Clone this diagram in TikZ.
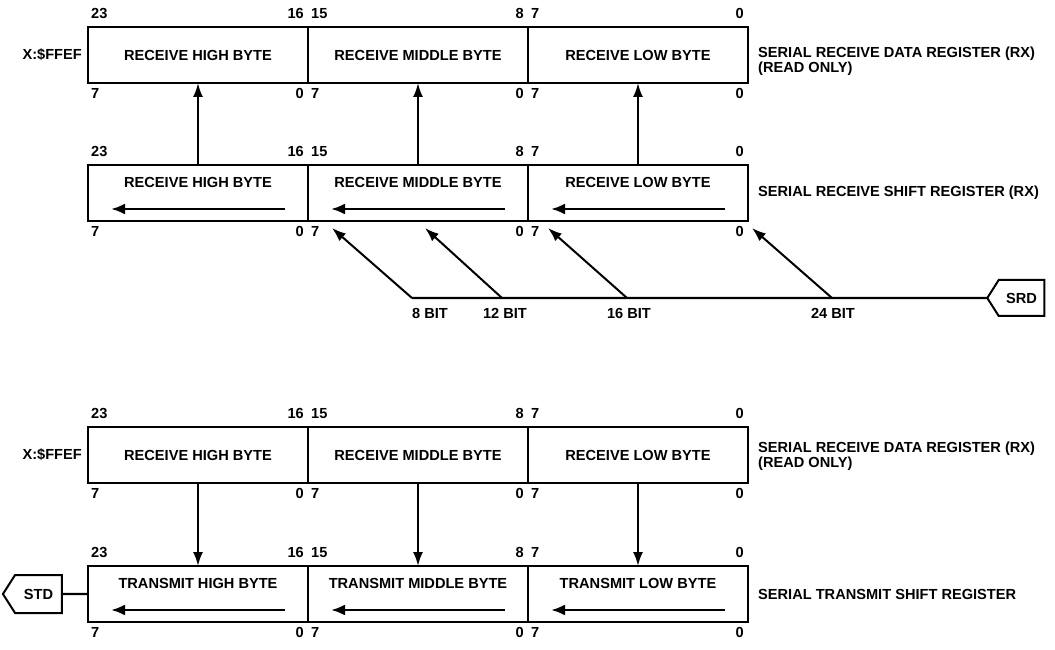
\documentclass[tikz,border=0pt]{standalone}
\usepackage{fontspec}
\setmainfont{Liberation Sans}
\usetikzlibrary{arrows.meta,shapes.symbols}

\tikzset{
 bitnum/.style={inner sep=0pt},
 bits/.style 2 args={
  label={[bitnum,anchor=south west,xshift=3pt,yshift=8pt]north west:#1},
  label={[bitnum,anchor=south east,xshift=-4pt,yshift=8pt]north east:#2},
  label={[bitnum,anchor=north west,xshift=3pt,yshift=-5pt]south west:7},
  label={[bitnum,anchor=north east,xshift=-4pt,yshift=-5pt]south east:0}},
 reg/.style={draw,line width=2pt,minimum width=220pt,minimum height=56pt,inner sep=0pt,outer sep=0pt},
 hib/.style={reg,bits={23}{16}},
 midb/.style={reg,bits={15}{8}},
 lob/.style={reg,bits={7}{0}},
 regname/.style={anchor=west,align=left,inner sep=0pt},
 flow/.style={-{Latex[length=14pt,width=10pt]},line width=2pt},
 shiftarr/.style={-{Latex[length=14pt,width=11pt]},line width=2.6pt},
 wire/.style={line width=2.2pt},
 port/.style={signal,draw,line width=2pt,inner sep=0pt,outer sep=0pt,signal to=west,signal pointer angle=115}
}

\begin{document}
\begin{tikzpicture}[x=1pt,y=1pt,font=\fontsize{14.6}{15}\selectfont\bfseries]
 \useasboundingbox (0,0) rectangle (1055,649);
 % receive data register
 \node[hib] (rdh) at (198,594) {RECEIVE HIGH BYTE};
 \node[midb] (rdm) at (418,594) {RECEIVE MIDDLE BYTE};
 \node[lob] (rdl) at (638,594) {RECEIVE LOW BYTE};
 \node[anchor=east,inner sep=0pt] (rdaddr) at ([xshift=-6pt]rdh.west) {X:\$FFEF};
 \node[regname] (rdname) at ([xshift=10pt,yshift=-6pt]rdl.east) {SERIAL RECEIVE DATA REGISTER (RX)\\(READ ONLY)};
 % receive shift register
 \node[hib] (rsh) at (198,456) {};
 \node[midb] (rsm) at (418,456) {};
 \node[lob] (rsl) at (638,456) {};
 \node (rsht) at ([yshift=-17.5pt]rsh.north) {RECEIVE HIGH BYTE};
 \node (rsmt) at ([yshift=-17.5pt]rsm.north) {RECEIVE MIDDLE BYTE};
 \node (rslt) at ([yshift=-17.5pt]rsl.north) {RECEIVE LOW BYTE};
 \node[regname] (rsname) at ([xshift=10pt]rsl.east) {SERIAL RECEIVE SHIFT REGISTER (RX)};
 \draw[shiftarr] ([xshift=-23pt,yshift=12pt]rsh.south east) -- ([xshift=23pt,yshift=12pt]rsh.south west);
 \draw[shiftarr] ([xshift=-23pt,yshift=12pt]rsm.south east) -- ([xshift=23pt,yshift=12pt]rsm.south west);
 \draw[shiftarr] ([xshift=-23pt,yshift=12pt]rsl.south east) -- ([xshift=23pt,yshift=12pt]rsl.south west);
 \draw[flow] (rsh.north) -- (rdh.south);
 \draw[flow] (rsm.north) -- (rdm.south);
 \draw[flow] (rsl.north) -- (rdl.south);
 % serial input
 \node[port,minimum width=57pt,minimum height=36pt] (srd) at (1021.5,351) {SRD};
 \coordinate (b8) at (412,351);
 \coordinate (b12) at (502,351);
 \coordinate (b16) at (627,351);
 \coordinate (b24) at (832,351);
 \draw[wire] (b8) -- (srd);
 \draw[flow] (b8) -- ([xshift=24pt,yshift=-7pt]rsm.south west);
 \draw[flow] (b12) -- ([xshift=7pt,yshift=-7pt]rsm.south);
 \draw[flow] (b16) -- ([xshift=20pt,yshift=-7pt]rsl.south west);
 \draw[flow] (b24) -- ([xshift=4pt,yshift=-7pt]rsl.south east);
 \node[inner sep=0pt] (l8) at ([xshift=18pt,yshift=-15pt]b8) {8 BIT};
 \node[inner sep=0pt] (l12) at ([xshift=3pt,yshift=-15pt]b12) {12 BIT};
 \node[inner sep=0pt] (l16) at ([xshift=2pt,yshift=-15pt]b16) {16 BIT};
 \node[inner sep=0pt] (l24) at ([xshift=1pt,yshift=-15pt]b24) {24 BIT};
 % transmit side
 \node[hib] (tdh) at (198,194) {RECEIVE HIGH BYTE};
 \node[midb] (tdm) at (418,194) {RECEIVE MIDDLE BYTE};
 \node[lob] (tdl) at (638,194) {RECEIVE LOW BYTE};
 \node[anchor=east,inner sep=0pt] (tdaddr) at ([xshift=-6pt]tdh.west) {X:\$FFEF};
 \node[regname] (tdname) at ([xshift=10pt,yshift=-1pt]tdl.east) {SERIAL RECEIVE DATA REGISTER (RX)\\(READ ONLY)};
 \node[hib] (tsh) at (198,55) {};
 \node[midb] (tsm) at (418,55) {};
 \node[lob] (tsl) at (638,55) {};
 \node (tsht) at ([yshift=-17.5pt]tsh.north) {TRANSMIT HIGH BYTE};
 \node (tsmt) at ([yshift=-17.5pt]tsm.north) {TRANSMIT MIDDLE BYTE};
 \node (tslt) at ([yshift=-17.5pt]tsl.north) {TRANSMIT LOW BYTE};
 \node[regname] (tsname) at ([xshift=10pt]tsl.east) {SERIAL TRANSMIT SHIFT REGISTER};
 \draw[shiftarr] ([xshift=-23pt,yshift=12pt]tsh.south east) -- ([xshift=23pt,yshift=12pt]tsh.south west);
 \draw[shiftarr] ([xshift=-23pt,yshift=12pt]tsm.south east) -- ([xshift=23pt,yshift=12pt]tsm.south west);
 \draw[shiftarr] ([xshift=-23pt,yshift=12pt]tsl.south east) -- ([xshift=23pt,yshift=12pt]tsl.south west);
 \draw[flow] (tdh.south) -- (tsh.north);
 \draw[flow] (tdm.south) -- (tsm.north);
 \draw[flow] (tdl.south) -- (tsl.north);
 \node[port,minimum width=59pt,minimum height=38pt] (std) at (38.5,55) {STD};
 \draw[wire] (std) -- (tsh);
\end{tikzpicture}
\end{document}
